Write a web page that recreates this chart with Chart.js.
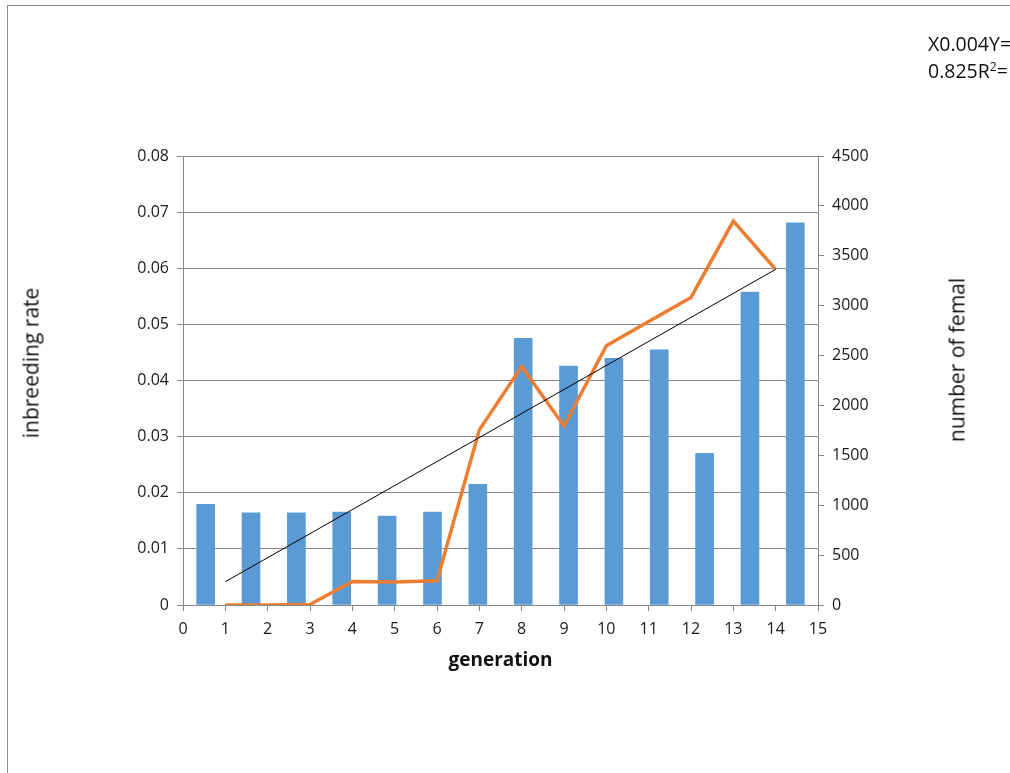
<!DOCTYPE html>
<html>
<head>
<meta charset="utf-8">
<script src="https://cdn.jsdelivr.net/npm/chart.js@4.4.1/dist/chart.umd.min.js"></script>
<style>
  html, body { margin: 0; padding: 0; background: #fff; width: 1010px; height: 773px; overflow: hidden; }
  #wrap { position: absolute; left: 0; top: 0; width: 1010px; height: 773px; overflow: hidden; }
  #frame { position: absolute; left: 7px; top: 5px; width: 1100px; height: 900px; border: 1px solid #8c8c8c; box-sizing: border-box; }
  .eq { position: absolute; left: 928px; font-family: "Open Sans", sans-serif; font-size: 19.5px; color: #111; white-space: nowrap; line-height: 1; }
  .vt { position: absolute; font-family: "Open Sans", sans-serif; font-size: 21px; color: #111; white-space: nowrap; line-height: 1;
        transform: translate(-50%, -50%) rotate(-90deg); }
</style>
</head>
<body>
<div id="wrap">
  <div id="frame"></div>
  <canvas id="c" width="1010" height="773" style="position:absolute;left:0;top:0;"></canvas>
  <div class="eq" style="top:34px;">X0.004Y=</div>
  <div class="eq" style="top:61px;">0.825R<sup style="font-size:12px;line-height:0;vertical-align:7px;">2</sup>=</div>
  <div class="vt" id="ytitle" style="left:31px;top:363px;">inbreeding rate</div>
  <div class="vt" id="y1title" style="left:957px;top:360px;">number of femal</div>
</div>
<script>
// Categories for the bar series (generations 1..14)
const categories = ['1','2','3','4','5','6','7','8','9','10','11','12','13','14'];
// Number of females (right axis), bars
const females = [1009, 925, 925, 932, 892, 932, 1209, 2672, 2395, 2472, 2558, 1520, 3136, 3830];
// Inbreeding rate (left axis), orange line at generations 1..14
const generations = [1,2,3,4,5,6,7,8,9,10,11,12,13,14];
const inbreeding = [0, 0, 0.0001, 0.0042, 0.0041, 0.0043, 0.0312, 0.0425, 0.0319, 0.0462, 0.0505, 0.0548, 0.0684, 0.0598];
// Linear trendline endpoints
const trendX = [1, 14];
const trendY = [0.00415, 0.0598];

const font = "'Open Sans', sans-serif";
const gridColor = '#878787';
const tickColor = '#1a1a1a';

new Chart(document.getElementById('c'), {
  data: {
    labels: categories,
    datasets: [
      {
        type: 'line',
        label: 'trend',
        data: trendX.map((x, i) => ({ x: x, y: trendY[i] })),
        xAxisID: 'x', yAxisID: 'y',
        borderColor: '#000', borderWidth: 1, pointRadius: 0, fill: false, tension: 0,
        order: 1
      },
      {
        type: 'line',
        label: 'inbreeding rate',
        data: generations.map((x, i) => ({ x: x, y: inbreeding[i] })),
        xAxisID: 'x', yAxisID: 'y',
        borderColor: '#ED7D31', borderWidth: 3.5, pointRadius: 0, fill: false, tension: 0,
        borderJoinStyle: 'miter',
        order: 2
      },
      {
        type: 'bar',
        label: 'number of femal',
        data: females,
        xAxisID: 'xc', yAxisID: 'y1',
        backgroundColor: '#5B9BD5',
        borderWidth: 0,
        grouped: false,
        barThickness: 18,
        order: 3
      }
    ]
  },
  options: {
    responsive: false,
    animation: false,
    devicePixelRatio: 1,
    layout: { padding: { left: 17, right: 38, top: 156, bottom: 97 } },
    plugins: { legend: { display: false }, tooltip: { enabled: false } },
    scales: {
      x: {
        type: 'linear', position: 'bottom', min: 0, max: 15,
        afterFit: s => { s.height = 71; },
        ticks: { stepSize: 1, color: tickColor, font: { family: font, size: 16 }, padding: 9, maxRotation: 0, autoSkip: false },
        grid: { drawOnChartArea: false, drawTicks: true, tickLength: 6, color: gridColor },
        border: { color: gridColor, width: 1 },
        title: { display: true, text: 'generation', color: '#111', font: { family: font, size: 19, weight: 'bold' }, padding: { top: 4, bottom: 4 } }
      },
      xc: {
        type: 'category', display: false, offset: true
      },
      y: {
        type: 'linear', position: 'left', min: 0, max: 0.08,
        afterFit: s => { s.width = 166; },
        ticks: { stepSize: 0.01, color: tickColor, font: { family: font, size: 16 }, padding: 8,
                 callback: v => (Math.abs(v) < 1e-9 ? '0' : v.toFixed(2)) },
        grid: { color: gridColor, lineWidth: 1, tickLength: 6 },
        border: { color: gridColor, width: 1 },
        title: { display: false }
      },
      y1: {
        type: 'linear', position: 'right', min: 0, max: 4500,
        afterFit: s => { s.width = 154; },
        ticks: { stepSize: 500, color: tickColor, font: { family: font, size: 16 }, padding: 8,
                 callback: v => String(v) },
        grid: { drawOnChartArea: false, color: gridColor, tickLength: 6 },
        border: { color: gridColor, width: 1 },
        title: { display: false }
      }
    }
  }
});
</script>
</body>
</html>
